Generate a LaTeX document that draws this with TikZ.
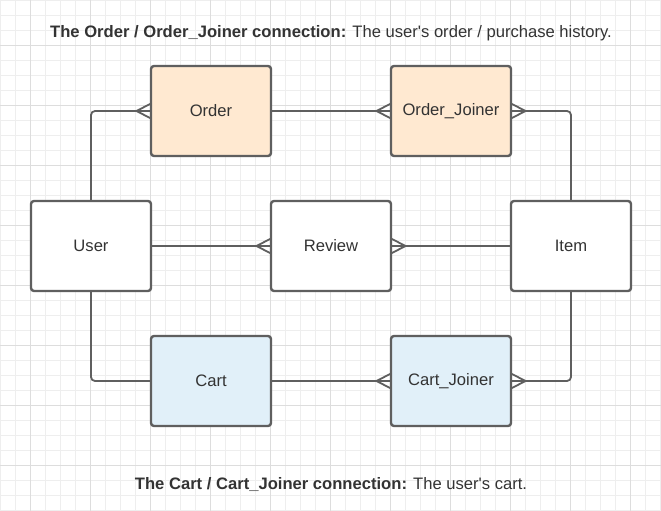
\documentclass[tikz,border=0pt]{standalone}
\usepackage{fontspec}
\setmainfont{Liberation Sans}
\definecolor{inkgray}{HTML}{333333}
\definecolor{edgegray}{HTML}{5F5F5F}
\definecolor{orderfill}{HTML}{FFE9D1}
\definecolor{cartfill}{HTML}{E1F0F9}
\definecolor{minorline}{HTML}{EEEEEE}
\definecolor{majorline}{HTML}{DDDDDD}
\tikzset{
  entity/.style={draw=edgegray,line width=2.4,rounded corners=3,fill=white,
    minimum width=120pt,minimum height=90pt,outer sep=0pt,inner sep=0pt,
    text=inkgray,font=\fontsize{16.6}{19}\selectfont},
  link/.style={draw=edgegray,line width=1.8,rounded corners=4},
  caption/.style={text=inkgray,font=\fontsize{16.6}{19}\selectfont}
}
% crow's foot: #1 = anchor, #2 = +1 (apex to the right) or -1 (apex to the left)
\newcommand{\crowfoot}[2]{%
  \draw[link,rounded corners=0] (#1)++(#2*14.5,0) -- ++(-#2*14.5,-7.5)
    (#1)++(#2*14.5,0) -- ++(-#2*14.5,7.5);}
\begin{document}
\begin{tikzpicture}[x=1pt,y=-1pt]
\useasboundingbox (0,0) rectangle (661,511);
\fill[white] (0,0) rectangle (661,511);
% grid
\foreach \gx in {0,15,...,660} \draw[minorline,line width=1] (\gx+0.5,0)--(\gx+0.5,511);
\foreach \gy in {0,15,...,510} \draw[minorline,line width=1] (0,\gy+0.5)--(661,\gy+0.5);
\foreach \gx in {30,90,...,630} \draw[majorline,line width=1] (\gx+0.5,0)--(\gx+0.5,511);
\foreach \gy in {45,105,...,465} \draw[majorline,line width=1] (0,\gy+0.5)--(661,\gy+0.5);

\node[entity] (user) at (91,246) {User};
\node[entity,fill=orderfill] (order) at (211,111) {Order};
\node[entity,fill=orderfill] (ojoin) at (451,111) {Order\_Joiner};
\node[entity] (review) at (331,246) {Review};
\node[entity] (item) at (571,246) {Item};
\node[entity,fill=cartfill] (cart) at (211,381) {Cart};
\node[entity,fill=cartfill] (cjoin) at (451,381) {Cart\_Joiner};

\draw[link] (user.north) |- (order.west);
\draw[link] (order.east) -- (ojoin.west);
\draw[link] (ojoin.east) -| (item.north);
\draw[link] (user.east) -- (review.west);
\draw[link] (review.east) -- (item.west);
\draw[link] (user.south) |- (cart.west);
\draw[link] (cart.east) -- (cjoin.west);
\draw[link] (cjoin.east) -| (item.south);
\crowfoot{order.west}{-1}
\crowfoot{ojoin.west}{-1}
\crowfoot{ojoin.east}{1}
\crowfoot{review.west}{-1}
\crowfoot{review.east}{1}
\crowfoot{cjoin.west}{-1}
\crowfoot{cjoin.east}{1}

\node[caption] (toptext) at (331,33) {\textbf{The Order / Order\_Joiner connection:} The user\textquotesingle s order / purchase history.};
\node[caption] (bottext) at (331,484) {\textbf{The Cart / Cart\_Joiner connection:} The user\textquotesingle s cart.};
\end{tikzpicture}
\end{document}
